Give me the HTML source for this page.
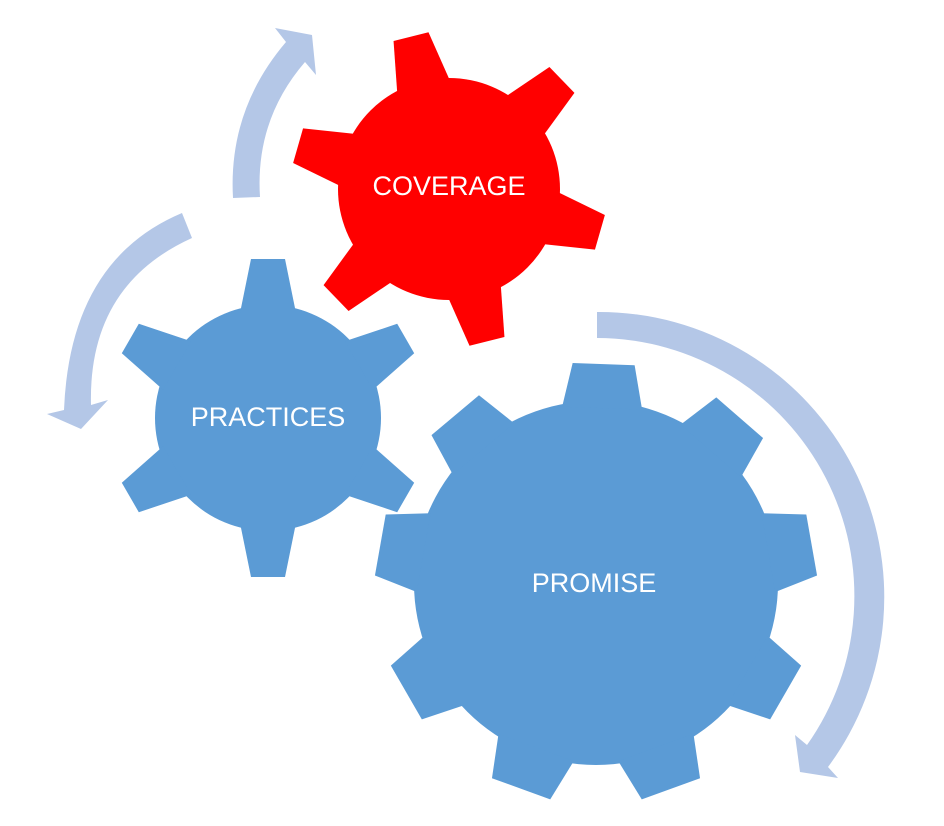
<!DOCTYPE html>
<html><head><meta charset="utf-8"><style>
html,body{margin:0;padding:0;background:#fff;}
svg{display:block;}
text{font-family:"Liberation Sans",sans-serif;font-size:27px;fill:#fff;text-anchor:middle;dominant-baseline:central;}
</style></head><body>
<svg width="944" height="826" viewBox="0 0 944 826">
<defs>
<polygon id="tL" points="-40,-175 -31,-219 31,-219 40,-175"/>
<polygon id="tS" points="-28,-105 -17,-159 17,-159 28,-105"/>
<polygon id="tC" points="-28,-100 -18,-157 18,-157 28,-100"/>
</defs>
<g fill="#b4c7e7">
<path d="M233,198 Q228,110 286,42 L275,28 L312,35 L316,75 L305,62 Q255,120 260,197 Z"/>
<path d="M182,213 Q70,260 64,410 L47,414 L81,429 L108,400 L91,405 Q88,285 192,238 Z"/>
<path d="M597,312 A285 285 0 0 1 828,767 L838,778 L800,772 L795,735 L807,745 A258 258 0 0 0 597,338 Z"/>
</g>
<g fill="#5b9bd5" transform="translate(596,583)">
<circle r="182"/>
<use href="#tL" transform="rotate(2)"/><use href="#tL" transform="rotate(41)"/><use href="#tL" transform="rotate(80)"/>
<use href="#tL" transform="rotate(120)"/><use href="#tL" transform="rotate(160)"/><use href="#tL" transform="rotate(200)"/>
<use href="#tL" transform="rotate(240)"/><use href="#tL" transform="rotate(280)"/><use href="#tL" transform="rotate(320)"/>
</g>
<g fill="#5b9bd5" transform="translate(268,418)">
<circle r="113"/>
<use href="#tS"/><use href="#tS" transform="rotate(60)"/><use href="#tS" transform="rotate(120)"/>
<use href="#tS" transform="rotate(180)"/><use href="#tS" transform="rotate(240)"/><use href="#tS" transform="rotate(300)"/>
</g>
<g fill="#ff0000" transform="translate(449,189)">
<circle r="111"/>
<use href="#tC" transform="rotate(-14)"/><use href="#tC" transform="rotate(46)"/><use href="#tC" transform="rotate(106)"/>
<use href="#tC" transform="rotate(166)"/><use href="#tC" transform="rotate(226)"/><use href="#tC" transform="rotate(286)"/>
</g>
<text x="449" y="186">COVERAGE</text>
<text x="268" y="417">PRACTICES</text>
<text x="594" y="583">PROMISE</text>
</svg>
</body></html>
